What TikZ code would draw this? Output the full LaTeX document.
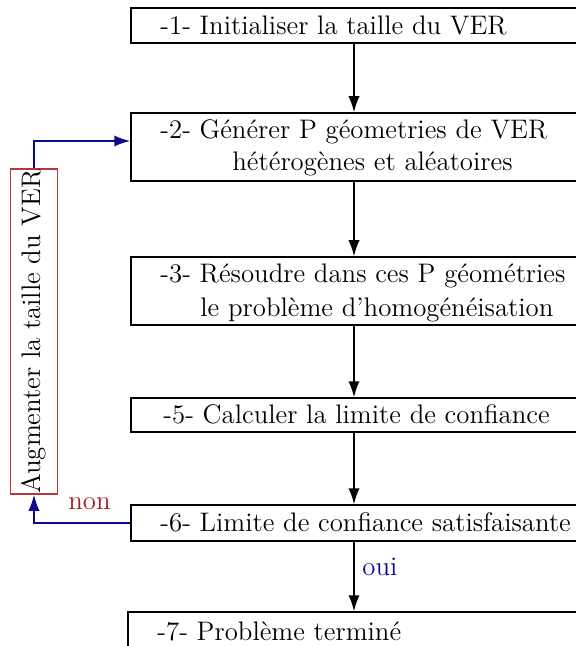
\documentclass[tikz,border=0pt]{standalone}
\usetikzlibrary{arrows.meta,calc}
\definecolor{navyc}{RGB}{10,10,140}
\definecolor{redbox}{RGB}{185,55,55}
\definecolor{nonc}{RGB}{160,30,30}
\begin{document}
\begin{tikzpicture}[x=0.5pt,y=-0.5pt,
  stepbox/.style={draw=black,line width=0.75pt,inner sep=0pt,minimum width=223pt},
  txt/.style={font=\fontsize{13.4}{16}\selectfont,inner sep=0pt,anchor=base west},
  arr/.style={line width=0.75pt,-{Latex[length=8pt,width=5.6pt]}},
  bluearr/.style={draw=navyc,line width=0.75pt,-{Latex[length=8pt,width=5.6pt]}}]
\useasboundingbox (0,0) rectangle (576,646);
% boxes
\node[stepbox,minimum height=17.5pt] (b1) at (354,25.5) {};
\node[stepbox,minimum height=34pt] (b2) at (354,147) {};
\node[stepbox,minimum height=34pt] (b3) at (354,291) {};
\node[stepbox,minimum height=17pt] (b5) at (354,415) {};
\node[stepbox,minimum height=18pt] (b6) at (354,523) {};
\node[stepbox,minimum height=34pt,minimum width=225pt] (b7) at (353,646) {};
% texts
\node[txt] (t1) at (160,35) {-1- Initialiser la taille du VER};
\node[txt] (t2a) at (160,139) {-2- Générer P géometries de VER};
\node[txt] (t2b) at (232,171) {hétérogènes et aléatoires};
\node[txt] (t3a) at (160,282) {-3- Résoudre dans ces P géométries};
\node[txt] (t3b) at (200,316) {le problème d'homogénéisation};
\node[txt] (t5) at (163,423) {-5- Calculer la limite de confiance};
\node[txt] (t6) at (160,531) {-6- Limite de confiance satisfaisante};
\node[txt] (t7) at (157,640) {-7- Problème terminé};
% side box
\node[draw=redbox,line width=0.75pt,rotate=90,inner sep=0pt,minimum width=162.5pt,minimum height=23.5pt,font=\fontsize{13.4}{16}\selectfont] (aug) at (34,331.5) {Augmenter la taille du VER};
% connectors
\draw[arr] (b1.south) -- (b2.north);
\draw[arr] (b2.south) -- (b3.north);
\draw[arr] (b3.south) -- (b5.north);
\draw[arr] (b5.south) -- (b6.north);
\draw[arr] (b6.south) -- (b6.south |- b7.north);
\node[txt,text=navyc] (oui) at (362,575) {oui};
\draw[bluearr] (b6.west) -| (aug.west);
\draw[bluearr] (aug.east) |- ($(b2.west)+(0,-6)$);
\node[txt,text=nonc] (non) at (68,509) {non};
\end{tikzpicture}
\end{document}
